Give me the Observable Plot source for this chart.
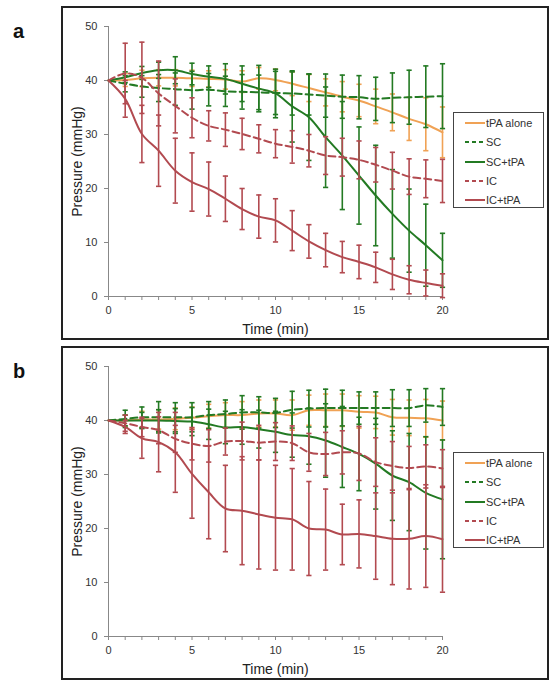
<!DOCTYPE html>
<html><head><meta charset="utf-8">
<script src="https://cdn.jsdelivr.net/npm/d3@7"></script>
<script src="https://cdn.jsdelivr.net/npm/@observablehq/plot@0.6"></script>
<style>
html,body{margin:0;padding:0;background:#fff;}
body{width:554px;height:682px;position:relative;overflow:hidden;font-family:"Liberation Sans",Arial,sans-serif;}
.panel{position:absolute;left:61px;width:488px;height:334px;border:2px solid #222;box-sizing:border-box;}
.panel svg{position:absolute;left:0;top:0;}
.tag{position:absolute;left:13px;font-size:20px;font-weight:bold;line-height:20px;color:#111;}
.legend{position:absolute;left:390px;top:104px;width:91px;height:96px;border:1px solid #444;box-sizing:border-box;background:#fff;}
.row{position:absolute;left:11px;height:19px;display:flex;align-items:center;font-size:11px;color:#333;white-space:nowrap;}
.row svg{position:static;margin-right:1px;}
</style>
</head><body>
<div class="tag" style="top:21px">a</div>
<div class="tag" style="top:361px">b</div>
<div class="panel" id="pa" style="top:6px"></div>
<div class="panel" id="pb" style="top:346px"></div>
<script>
// shared
const time = [0,1,2,3,4,5,6,7,8,9,10,11,12,13,14,15,16,17,18,19,20];
const yTicks = [0,10,20,30,40,50];
const xLabelTicks = [0,5,10,15,20];
const seriesNames = ["tPA alone","SC","SC+tPA","IC","IC+tPA"];
const seriesColors = ["#f0a255","#237a23","#237a23","#b24a50","#b24a50"];
const seriesDash = [null,"7,4",null,"7,4",null];

// panel a: means and error (SD)
const a_tpa      = [40,40.1,40.4,40.5,40.5,40.4,40.3,40.2,39.8,40.4,40.1,39.4,38.6,37.8,37.0,36.3,35.2,34.1,32.9,31.9,30.4];
const a_tpa_sd   = [0,1.2,1.5,1.5,1.5,1.5,1.5,1.8,2,2,2,2.2,2.5,2.5,2.8,3,3.2,3.4,4,4.9,4.7];
const a_sc       = [40,39.4,38.9,38.6,38.4,38.2,38.3,38.0,37.9,37.8,37.7,37.6,37.4,37.2,37.0,36.9,36.6,36.8,36.9,37.0,37.1];
const a_sc_sd    = [0,1.5,2,2.5,3,3.5,3,2.8,3.2,3.2,4,4,3.8,4,4,4,4,4.6,5,5.7,6];
const a_sctpa    = [40,40.6,41.4,41.9,41.9,41.2,40.7,40.3,39.4,38.5,37.6,35.2,33.2,29.5,26.1,22.4,18.7,15.3,12.2,9.5,6.7];
const a_sctpa_sd = [0,1,1.2,1.5,2.5,2,2,2.8,3.3,4.3,4.5,6.6,8,9.3,10,9,9.3,8.2,7.7,7.6,5];
const a_ic       = [40,41.3,40.5,37.6,35.3,33.1,31.6,30.9,30.1,29.2,28.3,27.7,27.0,26.1,25.8,25.3,24.4,23.3,22.2,21.8,21.4];
const a_ic_sd    = [0,5.6,6.6,6,5,3.7,2.8,3.1,2.9,2.6,2.6,3,3,3.5,3.5,3.5,3.2,3.4,3.3,3.5,4];
const a_ictpa    = [40,36.6,30.1,27.0,23.3,21.2,19.9,18.1,16.2,14.8,14.1,12.2,10.2,8.6,7.3,6.4,5.4,4.1,3.1,2.5,2.0];
const a_ictpa_sd = [0,3.4,5.3,6.6,6,5.4,5,4.2,3.8,4,4,3.7,3.1,3.1,2.9,3.1,2.8,2.8,2.6,2.4,2.2];

// panel b
const b_tpa      = [40,40.0,40.2,40.2,40.3,40.5,40.8,41.0,41.0,41.3,41.3,41.0,41.9,41.9,41.9,41.6,41.5,40.6,40.5,40.4,40.0];
const b_tpa_sd   = [0,1,1.5,1.8,2,2,2.2,2.3,2.5,2.5,2.5,2.8,2.8,3,3,3,3,3.3,3.3,3.5,3.6];
const b_sc       = [40,40.3,40.6,40.6,40.6,40.6,41.0,41.2,41.5,41.5,41.4,42.0,42.2,42.3,42.3,42.3,42.3,42.3,42.3,42.8,42.5];
const b_sc_sd    = [0,1.6,1.9,2.9,2.7,2.7,2.5,2.6,3.1,2.9,2.7,3.4,3.4,3.5,3.3,3,3,3.4,3.4,3.1,3.4];
const b_sctpa    = [40,40.0,40.0,40.0,39.9,39.8,39.3,38.7,38.8,38.4,37.9,37.3,37.1,36.3,35.1,33.8,32.0,29.8,28.6,26.6,25.4];
const b_sctpa_sd = [0,1,1.5,2,2.3,2.6,2.8,3,3.2,3.5,3.8,4.1,5.2,6.8,7.5,6.8,8.4,8.3,9,10.4,11];
const b_ic       = [40,39.5,38.8,38.2,36.6,35.7,35.3,36.1,36.2,35.9,36.1,35.8,34.1,33.8,34.1,33.9,32.3,31.6,31.2,31.5,31.1];
const b_ic_sd    = [0,1.5,1.8,2.5,2.5,3,3,2.5,3.5,3.2,3.5,3.2,3.5,4,4,5,4.5,4.5,4,4,3.5];
const b_ictpa    = [40,38.8,36.7,36.0,34.1,30.1,26.7,23.7,23.3,22.6,22.0,21.7,20.0,19.8,18.9,19.0,18.6,18.1,18.1,18.6,18.0];
const b_ictpa_sd = [0,1.2,3.7,5.5,7.4,8.2,8.6,8,10,10.1,9.7,9.4,8.7,7.5,5.6,6.3,8,8.5,9.3,9.5,9.8];

const capSymbol = {draw(ctx, size){ const r = Math.sqrt(size/Math.PI); ctx.moveTo(-r,0); ctx.lineTo(r,0); }};

function rowsOf(m, s){ return time.map((t,i)=>({t, mean:m[i], lo:m[i]-s[i], hi:m[i]+s[i]})); }

function panel(means, sds){
  const marks = [
    Plot.ruleX([0], {stroke:"#888", strokeWidth:1}),
    Plot.ruleY([0], {stroke:"#888", strokeWidth:1}),
    Plot.axisY({ticks:yTicks, tickSize:4, tickPadding:7, label:null, stroke:"#888", fill:"#333", fontSize:11}),
    Plot.axisY({ticks:[], label:"Pressure (mmHg)", labelAnchor:"center", labelArrow:"none", labelOffset:36, fill:"#222", fontSize:14}),
    Plot.axisX({ticks:time, tickSize:4, tickFormat:()=>"", label:null, stroke:"#888"}),
    Plot.axisX({ticks:xLabelTicks, tickSize:0, tickPadding:10, label:null, fill:"#333", fontSize:11}),
    Plot.axisX({ticks:[], label:"Time (min)", labelAnchor:"center", labelArrow:"none", labelOffset:37, fill:"#222", fontSize:14})
  ];
  means.forEach((m, k) => {
    const rows = rowsOf(m, sds[k]);
    const bars = rows.filter(d => d.t > 0);
    const c = seriesColors[k];
    marks.push(
      Plot.ruleX(bars, {x:"t", y1:"lo", y2:"hi", stroke:c, strokeWidth:1.6}),
      Plot.dot(bars, {x:"t", y:"lo", symbol:capSymbol, r:2.6, stroke:c, strokeWidth:1.6, fill:"none"}),
      Plot.dot(bars, {x:"t", y:"hi", symbol:capSymbol, r:2.6, stroke:c, strokeWidth:1.6, fill:"none"}),
      Plot.line(rows, {x:"t", y:"mean", stroke:c, strokeWidth:2, curve:"catmull-rom", strokeDasharray: seriesDash[k] ?? undefined})
    );
  });
  return Plot.plot({
    width:484, height:330,
    marginLeft:45, marginRight:105, marginTop:18, marginBottom:42,
    x:{domain:[0,20]}, y:{domain:[0,50]},
    style:{fontFamily:'"Liberation Sans", Arial, sans-serif', background:"transparent", overflow:"visible"},
    marks
  });
}

function legend(){
  const box = document.createElement("div");
  box.className = "legend";
  seriesNames.forEach((name, k) => {
    const row = document.createElement("div");
    row.className = "row";
    row.style.top = (0.5 + k*19.3) + "px";
    const ns = "http://www.w3.org/2000/svg";
    const s = document.createElementNS(ns, "svg");
    s.setAttribute("width", 20); s.setAttribute("height", 10);
    const ln = document.createElementNS(ns, "line");
    ln.setAttribute("x1", 0); ln.setAttribute("x2", 20);
    ln.setAttribute("y1", 5); ln.setAttribute("y2", 5);
    ln.setAttribute("stroke", seriesColors[k]); ln.setAttribute("stroke-width", 2);
    if (seriesDash[k]) ln.setAttribute("stroke-dasharray", "4,3");
    s.appendChild(ln);
    row.appendChild(s);
    row.appendChild(document.createTextNode(name));
    box.appendChild(row);
  });
  return box;
}

const pa = document.getElementById("pa");
pa.appendChild(panel([a_tpa,a_sc,a_sctpa,a_ic,a_ictpa],[a_tpa_sd,a_sc_sd,a_sctpa_sd,a_ic_sd,a_ictpa_sd]));
pa.appendChild(legend());
const pb = document.getElementById("pb");
pb.appendChild(panel([b_tpa,b_sc,b_sctpa,b_ic,b_ictpa],[b_tpa_sd,b_sc_sd,b_sctpa_sd,b_ic_sd,b_ictpa_sd]));
pb.appendChild(legend());
</script>
</body></html>
